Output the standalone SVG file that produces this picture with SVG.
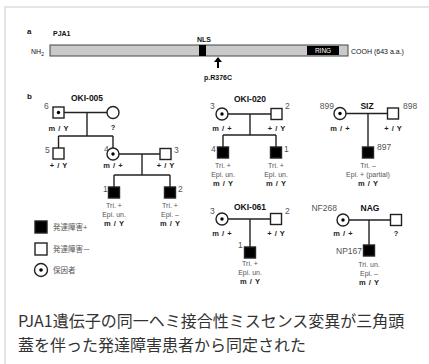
<svg xmlns="http://www.w3.org/2000/svg" width="429" height="364" viewBox="0 0 429 364">
<style>
.lbl{font-family:"Liberation Sans",Arial,sans-serif;fill:#111}
.b{font-weight:bold}
.t{font-size:8.5px;font-weight:bold;text-anchor:middle}
.n{font-family:"Liberation Sans",Arial,sans-serif;font-size:8.5px;fill:#555}
.g{font-family:"Liberation Sans",Arial,sans-serif;font-size:7.5px;font-weight:bold;text-anchor:middle;fill:#222;word-spacing:1px}
.a{font-family:"Liberation Sans",Arial,sans-serif;font-size:7px;text-anchor:middle;fill:#555}
.ln{stroke:#222;stroke-width:1.4;fill:none}
.sym{stroke:#222;stroke-width:1.4;fill:#fff}
.aff{stroke:#222;stroke-width:1.4;fill:#000}
.leg{font-family:"Liberation Sans","Noto Sans CJK JP",sans-serif;font-size:7.5px;fill:#555}
.cap{font-family:"Noto Sans CJK JP","Noto Sans",sans-serif;font-size:16px;fill:#333}
</style>
<rect width="429" height="364" fill="#fff"/>
<path d="M5,364 V7 H429" fill="none" stroke="#ddd" stroke-width="1.5"/>

<g id="panel-a">
<text class="lbl b" x="27" y="34" font-size="8">a</text>
<text class="lbl b" x="53" y="36" font-size="7">PJA1</text>
<text class="lbl" x="31" y="54" font-size="7" fill="#444">NH<tspan font-size="5" dy="2">2</tspan></text>
<rect x="50" y="45" width="298" height="11" fill="#c9c9c9" stroke="#444" stroke-width="1"/>
<rect x="199" y="45" width="7" height="11" fill="#000"/>
<text class="lbl b" x="204" y="42" font-size="7" text-anchor="middle">NLS</text>
<rect x="307" y="46" width="32" height="9" fill="#000"/>
<text x="323" y="53" font-family="Liberation Sans,Arial,sans-serif" font-size="6.5" fill="#fff" text-anchor="middle">RING</text>
<text class="lbl" x="351" y="54" font-size="7" fill="#444">COOH  (643 a.a.)</text>
<path d="M217,68 V62 H214 L218,57 L222,62 H219 V68 Z" fill="#000"/>
<text class="lbl b" x="218" y="80" font-size="7" text-anchor="middle">p.R376C</text>
</g>

<text class="lbl b" x="27" y="99" font-size="8">b</text>

<g id="connectors">
<path class="ln" d="M64,112.5 H107 M87,112.5 V136 M58.5,136 H113 M58.5,136 V148 M113,136 V148"/>
<path class="ln" d="M119,154 H160 M142,154 V175 M114,175 H170 M114,175 V187 M170,175 V187"/>
<path class="ln" d="M228,114 H271 M250,114 V135 M223,135 H276 M223,135 V147 M276,135 V147"/>
<path class="ln" d="M346,113.5 H387.5 M368,113.5 V147"/>
<path class="ln" d="M228,219 H270.5 M250,219 V247"/>
<path class="ln" d="M349,220 H390.5 M369,220 V245"/>
</g>

<g id="OKI-005">
<text class="lbl t" x="87" y="101">OKI-005</text>
<g id="oki005-6"><text class="n" x="44" y="109">6</text><rect class="sym" x="53" y="107" width="11" height="11"/><circle cx="58.5" cy="112.5" r="1.7" fill="#000"/><text class="g" x="58.5" y="131">m / Y</text></g>
<g id="oki005-m"><circle class="sym" cx="113" cy="112.5" r="6"/><text class="g" x="113" y="130">?</text></g>
<g id="oki005-5"><text class="n" x="45" y="153">5</text><rect class="sym" x="53" y="148" width="11" height="11"/><text class="g" x="58.5" y="168">+ / Y</text></g>
<g id="oki005-4"><text class="n" x="104" y="152">4</text><circle class="sym" cx="113" cy="154" r="6"/><circle cx="113" cy="154" r="1.7" fill="#000"/><text class="g" x="113" y="168">m / +</text></g>
<g id="oki005-3"><rect class="sym" x="160" y="148.5" width="11" height="11"/><text class="n" x="174" y="153">3</text><text class="g" x="165.5" y="168">+ / Y</text></g>
<g id="oki005-1"><text class="n" x="103" y="192">1</text><rect class="aff" x="108.5" y="187" width="11" height="11"/><text class="a" x="114" y="208">Tri. +</text><text class="a" x="114" y="217">Epi. un.</text><text class="g" x="114" y="226">m / Y</text></g>
<g id="oki005-2"><rect class="aff" x="164.5" y="187" width="11" height="11"/><text class="n" x="178" y="192">2</text><text class="a" x="170" y="208">Tri. +</text><text class="a" x="170" y="217">Epi. –</text><text class="g" x="170" y="226">m / Y</text></g>
</g>

<g id="legend">
<rect class="aff" x="35" y="221" width="12" height="12"/><text class="leg" x="53" y="230">発達障害+</text>
<rect class="sym" x="35" y="243" width="12" height="12"/><text class="leg" x="53" y="252">発達障害－</text>
<circle class="sym" cx="41" cy="270" r="6.5"/><circle cx="41" cy="270" r="1.8" fill="#000"/><text class="leg" x="53" y="273">保因者</text>
</g>

<g id="OKI-020">
<text class="lbl t" x="250" y="102">OKI-020</text>
<g id="oki020-3"><text class="n" x="210" y="109">3</text><circle class="sym" cx="222" cy="114" r="6"/><circle cx="222" cy="114" r="1.7" fill="#000"/><text class="g" x="222" y="131">m / +</text></g>
<g id="oki020-2"><rect class="sym" x="271" y="108.5" width="11" height="11"/><text class="n" x="285" y="109">2</text><text class="g" x="276.5" y="131">+ / Y</text></g>
<g id="oki020-4"><text class="n" x="211" y="152">4</text><rect class="aff" x="217.5" y="147" width="11" height="11"/><text class="a" x="223" y="168">Tri. +</text><text class="a" x="223" y="177">Epi. un.</text><text class="g" x="223" y="186">m / Y</text></g>
<g id="oki020-1"><rect class="aff" x="270.5" y="147" width="11" height="11"/><text class="n" x="284" y="152">1</text><text class="a" x="276" y="168">Tri. +</text><text class="a" x="276" y="177">Epi. un.</text><text class="g" x="276" y="186">m / Y</text></g>
</g>

<g id="SIZ">
<text class="lbl t" x="367" y="109">SIZ</text>
<g id="siz-899"><text class="n" x="334" y="109" text-anchor="end">899</text><circle class="sym" cx="340" cy="113.5" r="6"/><circle cx="340" cy="113.5" r="1.7" fill="#000"/><text class="g" x="340" y="131">m / +</text></g>
<g id="siz-898"><rect class="sym" x="387.5" y="108" width="11" height="11"/><text class="n" x="403" y="109">898</text><text class="g" x="393" y="131">+ / Y</text></g>
<g id="siz-897"><rect class="aff" x="362.5" y="147" width="11" height="11"/><text class="n" x="377" y="150">897</text><text class="a" x="368" y="168">Tri. –</text><text class="a" x="368" y="177">Epi. + (partial)</text><text class="g" x="368" y="186">m / Y</text></g>
</g>

<g id="OKI-061">
<text class="lbl t" x="250" y="210">OKI-061</text>
<g id="oki061-3"><text class="n" x="210" y="214">3</text><circle class="sym" cx="222" cy="219" r="6"/><circle cx="222" cy="219" r="1.7" fill="#000"/><text class="g" x="222" y="236">m / +</text></g>
<g id="oki061-2"><rect class="sym" x="270.5" y="213.5" width="11" height="11"/><text class="n" x="285" y="214">2</text><text class="g" x="276" y="236">+ / Y</text></g>
<g id="oki061-1"><text class="n" x="238" y="248">1</text><rect class="aff" x="244.5" y="247" width="11" height="11"/><text class="a" x="250" y="266">Tri. +</text><text class="a" x="250" y="275">Epi. un.</text><text class="g" x="250" y="284">m / Y</text></g>
</g>

<g id="NAG">
<text class="lbl t" x="370" y="211">NAG</text>
<g id="nag-nf268"><text class="n" x="337" y="211" text-anchor="end">NF268</text><circle class="sym" cx="343" cy="220" r="6"/><circle cx="343" cy="220" r="1.7" fill="#000"/><text class="g" x="343" y="236">m / +</text></g>
<g id="nag-f"><rect class="sym" x="390.5" y="214.5" width="11" height="11"/><text class="g" x="396" y="236">?</text></g>
<g id="nag-np167"><text class="n" x="362" y="254" text-anchor="end">NP167</text><rect class="aff" x="363.5" y="245" width="11" height="11"/><text class="a" x="369" y="267">Tri. un.</text><text class="a" x="369" y="276">Epi. –</text><text class="g" x="369" y="285">m / Y</text></g>
</g>

<g id="caption">
<text class="cap" x="18" y="327">PJA1遺伝子の同一ヘミ接合性ミスセンス変異が三角頭</text>
<text class="cap" x="18" y="351">蓋を伴った発達障害患者から同定された</text>
</g>
</svg>
